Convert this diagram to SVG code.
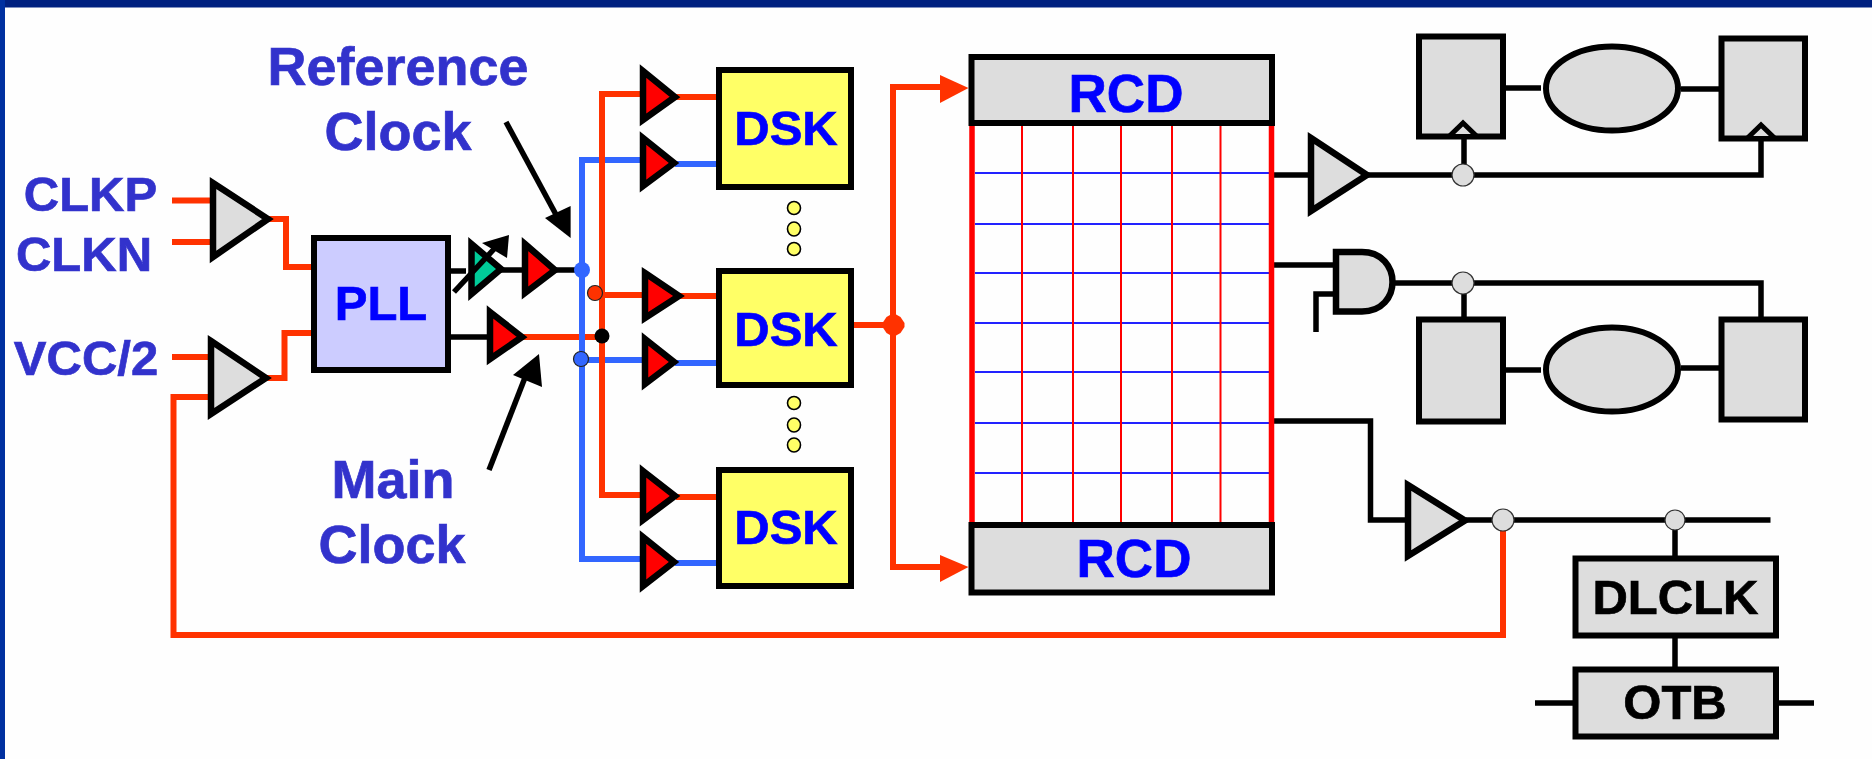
<svg xmlns="http://www.w3.org/2000/svg" width="1872" height="759" viewBox="0 0 1872 759">
<style>
.w{fill:none;stroke-linejoin:miter;stroke-linecap:butt}
.o{stroke:#ff3300;stroke-width:6}
.b{stroke:#3366ff;stroke-width:6}
.k{stroke:#000;stroke-width:5.5}
.gate{stroke:#000;stroke-width:6.5;stroke-linejoin:miter}
.g{fill:#dddddd}
.r{fill:#ff0000}
.box{stroke:#000;stroke-width:6}
.dsk{fill:#ffff66}
.clk{fill:#dddddd;stroke:#000;stroke-width:5;stroke-linejoin:miter}
.t{font-family:"Liberation Sans",Arial,sans-serif;font-weight:700;text-anchor:middle;stroke-width:.7}
.lab{fill:#3333cc;stroke:#3333cc;font-size:49px}
.big{fill:#3333cc;stroke:#3333cc;font-size:54px}
.in{fill:#0000ff;stroke:#0000ff;font-size:49px}
.blk{fill:#000;stroke:#000;font-size:49px}
.jg{fill:#dddddd;stroke:#333;stroke-width:1.2}
.dot{fill:#ffff66;stroke:#000;stroke-width:1.6}
.gv{stroke:#ff0000;stroke-width:2}
.gh{stroke:#2222ff;stroke-width:2}
</style>
<defs><filter id="soft" filterUnits="userSpaceOnUse" x="0" y="0" width="1872" height="759"><feGaussianBlur stdDeviation="0.55"/></filter></defs>
<rect width="1872" height="759" fill="#fefefe"/>
<rect width="1872" height="7.500" fill="#002080"/>
<rect width="5" height="759" fill="#0030a0"/>
<g filter="url(#soft)">
<g id="connectors">
<path class="w o" d="M172 200.500H212M172 242H212"/>
<path class="w o" d="M268 219H286V267H312"/>
<path class="w o" d="M172 357H210M210 397H173.500V635H1503V530"/>
<path class="w o" d="M266 378H284.500V333H312"/>
<path class="w k" d="M451 271H466M500 270H522M555 270H582M451 337H487"/>
<path class="w o" d="M522 337H602"/>
<path class="w b" d="M642 160H582V559H642"/>
<path class="w b" d="M582 360H644"/>
<path class="w o" d="M642 94H602V495H642"/>
<path class="w o" d="M595 295H644"/>
<path class="w o" d="M676 97H716M680 296H716M676 497H716"/>
<path class="w b" d="M675 164H716M675 363H716M675 563H716"/>
<path class="w o" d="M854 325H893"/>
<path class="w o" d="M945 87H893V567H945"/>
<polygon points="940,75 968.500,88 940,103" fill="#ff3300"/>
<polygon points="940,555 968.500,567 940,582" fill="#ff3300"/>
<path class="w k" d="M1272 175H1308M1368 175H1761V139M1464 175V139"/>
<path class="w k" d="M1505 88H1541M1681 89H1719M1505 370H1541M1681 368H1719"/>
<path class="w k" d="M1272 265H1334M1334 294H1316V332M1393 283H1761V317M1464 283V317"/>
<path class="w k" d="M1272 421H1370.500V520H1406M1466 520H1770.500M1675 520V556M1675 638V667M1535 703H1573M1779 703H1814"/>
<circle cx="582" cy="270" r="8" fill="#3366ff"/>
<circle cx="595" cy="293" r="7.500" fill="#ff3300" stroke="#222" stroke-width="1.200"/>
<circle cx="602" cy="336" r="7.500" fill="#000"/>
<circle cx="581" cy="359" r="7.500" fill="#3366ff" stroke="#222" stroke-width="1.200"/>
<polygon points="893.500,313 900.500,317 904.500,323 904.500,327 900.500,333 893.500,337 886.500,333 882.500,327 882.500,323 886.500,317" fill="#ff3300"/>
<circle class="jg" cx="1463" cy="175" r="11"/>
<circle class="jg" cx="1463" cy="283" r="11"/>
<circle class="jg" cx="1503" cy="520" r="11"/>
<circle class="jg" cx="1675" cy="520" r="10"/>
</g>

<g id="clock-labels">
<text class="t lab" x="90.500" y="211">CLKP</text>
<text class="t lab" x="84" y="271">CLKN</text>
<text class="t lab" x="86" y="375">VCC/2</text>
<text class="t big" x="398" y="85">Reference</text>
<text class="t big" x="398" y="150">Clock</text>
<text class="t big" x="393" y="498">Main</text>
<text class="t big" x="392" y="563">Clock</text>
</g>

<g id="reference-arrow">
<path class="w k" d="M506 122L560 222"/>
<polygon points="570.600,238 545,218 570.600,206"/>
</g>
<g id="main-arrow">
<path class="w k" d="M489 470L526 375"/>
<polygon points="539,354 513,375 542,387"/>
</g>

<g id="in-buffer-1"><polygon class="gate g" points="213,183 268,219 213,257"/></g>
<g id="in-buffer-2"><polygon class="gate g" points="211,341 266,378 211,414"/></g>
<g id="pll"><rect class="box" x="314" y="238" width="134" height="132" fill="#ccccff"/><text class="t in" x="381" y="320">PLL</text></g>
<g id="delay">
<polygon class="gate" fill="#00cc99" stroke-width="5" points="471.500,244 501,269 471.500,294"/>
<path class="w" stroke="#fefefe" stroke-width="4" d="M491 253L503 263"/>
<path class="w" stroke="#000" stroke-width="5.500" d="M454 292L495 248"/>
<polygon points="509,235 482,243 507,258"/>
</g>
<g id="buf-ref"><polygon class="gate r" points="525,244 555,270 525,293"/></g>
<g id="buf-main"><polygon class="gate r" points="490,312 522,337 490,359"/></g>
<g id="buf-a"><polygon class="gate r" points="643,71 675,97 643,120"/></g>
<g id="buf-b"><polygon class="gate r" points="643,138 674,163 643,186"/></g>
<g id="buf-c"><polygon class="gate r" points="645,273 679,296 645,318"/></g>
<g id="buf-d"><polygon class="gate r" points="645,339 674,362 645,384"/></g>
<g id="buf-e"><polygon class="gate r" points="643,471 675,496 643,520"/></g>
<g id="buf-f"><polygon class="gate r" points="643,537 674,562 643,586"/></g>

<g id="dsk-1"><rect class="box dsk" x="719" y="70" width="132" height="117"/><text class="t in" x="786" y="145">DSK</text></g>
<g id="dsk-2"><rect class="box dsk" x="719" y="271" width="132" height="114"/><text class="t in" x="786" y="346">DSK</text></g>
<g id="dsk-3"><rect class="box dsk" x="719" y="470" width="132" height="116"/><text class="t in" x="786" y="544">DSK</text></g>
<g id="dots-upper"><ellipse class="dot" cx="794" cy="208" rx="6.500" ry="6.500"/><ellipse class="dot" cx="794" cy="229" rx="6.500" ry="7"/><ellipse class="dot" cx="794" cy="249" rx="6.500" ry="6.500"/></g>
<g id="dots-lower"><ellipse class="dot" cx="794" cy="403" rx="6.500" ry="6.500"/><ellipse class="dot" cx="794" cy="425" rx="6.500" ry="7"/><ellipse class="dot" cx="794" cy="445" rx="6.500" ry="7"/></g>

<g id="grid">
<path class="gh" d="M975 173H1269M975 224H1269M975 273H1269M975 323H1269M975 372H1269M975 423H1269M975 473H1269"/>
<path class="gv" d="M1022 125V522M1073 125V522M1121 125V522M1172 125V522M1220.500 125V522"/>
<path stroke="#ff0000" stroke-width="5.500" d="M972 125V522M1271.500 125V522"/>
</g>
<g id="rcd-top"><rect class="box g" x="971.500" y="57" width="300.500" height="66"/><text class="t in" x="1126" y="112" style="font-size:53px">RCD</text></g>
<g id="rcd-bottom"><rect class="box g" x="971.500" y="525" width="300.500" height="67.500"/><text class="t in" x="1134" y="577" style="font-size:53px">RCD</text></g>

<g id="buffer-a"><polygon class="gate g" points="1311,138 1367,175 1311,211"/></g>
<g id="and-gate"><path class="gate g" d="M1336 252H1362C1382 252 1392.500 267 1392.500 282C1392.500 297 1382 311.500 1362 311.500H1336Z"/></g>
<g id="buffer-b"><polygon class="gate g" points="1408,485 1465,520.500 1408,556"/></g>

<g id="ff-top-left"><rect class="box g" x="1419" y="36.500" width="84" height="100"/><path class="clk" d="M1449 136.500L1463 123L1477 136.500Z"/></g>
<g id="ff-top-right"><rect class="box g" x="1721.500" y="38.500" width="83.500" height="100"/><path class="clk" d="M1747 138.500L1761 125L1775 138.500Z"/></g>
<g id="logic-top"><ellipse class="box g" cx="1612" cy="88.500" rx="66" ry="42"/></g>
<g id="ff-bottom-left"><rect class="box g" x="1419" y="319.500" width="84" height="102"/></g>
<g id="ff-bottom-right"><rect class="box g" x="1721.500" y="319.500" width="83.500" height="100"/></g>
<g id="logic-bottom"><ellipse class="box g" cx="1612" cy="369.500" rx="66" ry="42"/></g>

<g id="dlclk"><rect class="box g" x="1575.500" y="558.500" width="200.500" height="77"/><text class="t blk" x="1675.500" y="614">DLCLK</text></g>
<g id="otb"><rect class="box g" x="1575.500" y="669.500" width="200.500" height="67"/><text class="t blk" x="1675" y="719">OTB</text></g>
</g>
</svg>
